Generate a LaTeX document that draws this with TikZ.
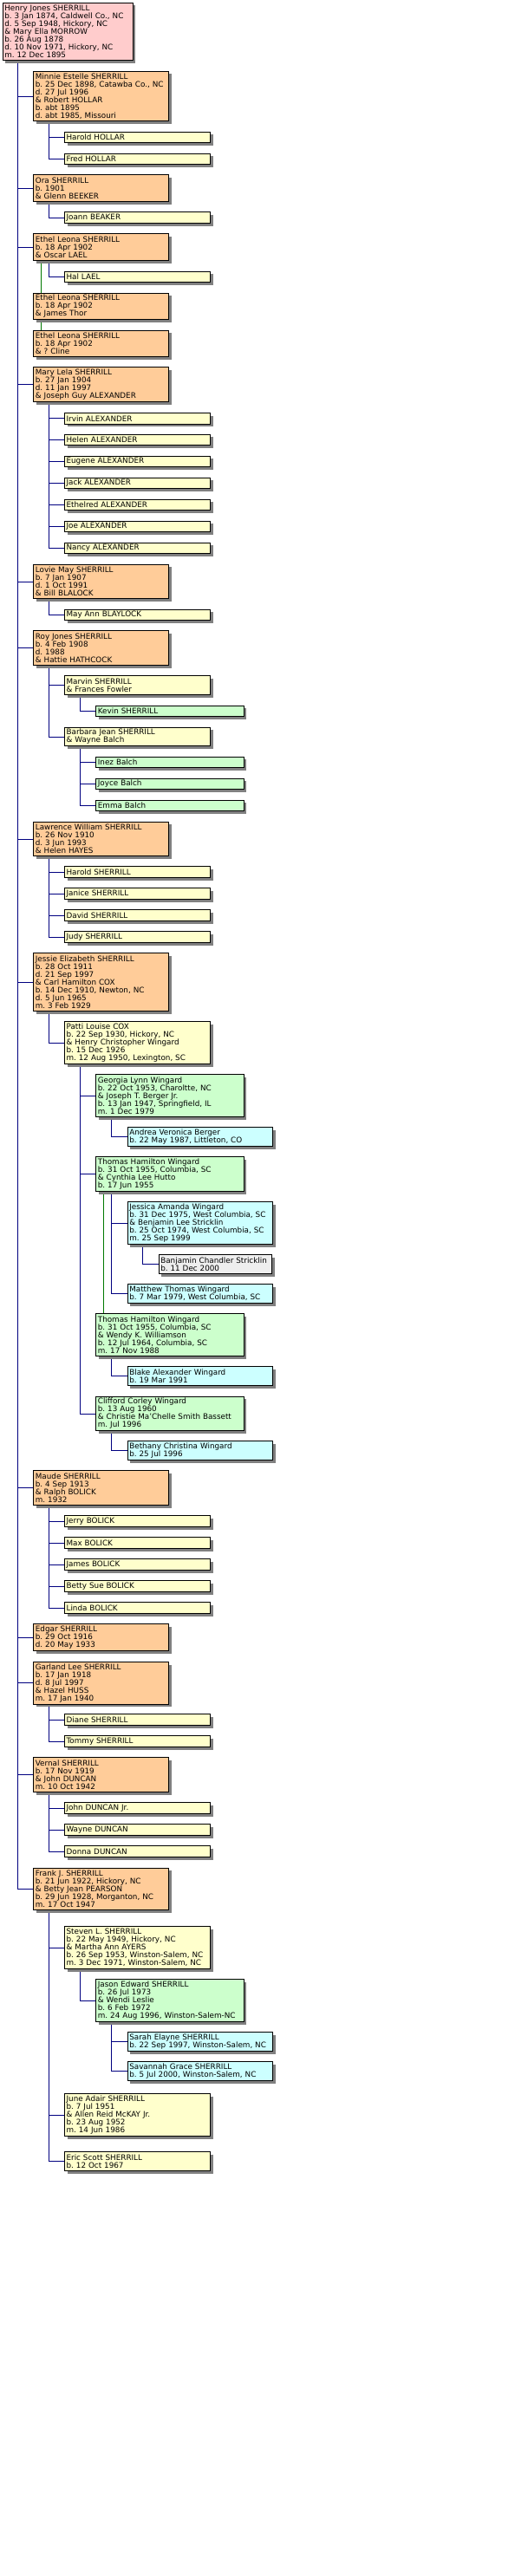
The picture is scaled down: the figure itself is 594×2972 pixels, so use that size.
\documentclass[tikz,border=0pt]{standalone}
\usepackage{fontspec}
\setmainfont{DejaVu Sans}
\usepackage{xcolor}
\usepackage{tikz}
\usetikzlibrary{shadows,backgrounds}
\definecolor{rootpink}{RGB}{255,204,204}
\definecolor{peach}{RGB}{255,204,153}
\definecolor{cream}{RGB}{255,255,204}
\definecolor{mint}{RGB}{204,255,204}
\definecolor{aqua}{RGB}{204,255,255}
\definecolor{pale}{RGB}{238,238,238}
\definecolor{navy}{RGB}{0,0,128}
\definecolor{leafgreen}{RGB}{0,120,0}
\definecolor{shade}{RGB}{128,128,128}
\frenchspacing

\begin{document}
\begin{tikzpicture}[
  x=1pt, y=-1pt,
  person/.style={draw=black, line width=0.8pt, anchor=north west,
    inner xsep=2.2pt, inner ysep=0pt, align=left,
    font=\fontsize{8.8}{9}\selectfont,
    general shadow={fill=shade, shadow xshift=3.3pt, shadow yshift=-3.3pt}},
  nl/.style={minimum height=9pt*#1+3.7pt},
  gen0/.style={person, fill=rootpink, text width=145.6pt},
  gen1/.style={person, fill=peach, text width=151.6pt},
  gen2/.style={person, fill=cream, text width=163.9pt},
  gen3/.style={person, fill=mint, text width=166pt},
  gen4/.style={person, fill=aqua, text width=163.2pt},
  gen5/.style={person, fill=pale, text width=126.2pt},
  tree/.style={draw=navy, line width=0.9pt},
  remarry/.style={draw=leafgreen, line width=0.9pt},
  ]
  \useasboundingbox (0,0) rectangle (594,2972);

  % Couple de depart
  \node[gen0, nl=7] (root) at (2.7,2.7) {Henry Jones SHERRILL\\ b. 3 Jan 1874, Caldwell Co., NC\\ d. 5 Sep 1948, Hickory, NC\\ \& Mary Ella MORROW\\ b. 26 Aug 1878\\ d. 10 Nov 1971, Hickory, NC\\ m. 12 Dec 1895};

  % Minnie
  \node[gen1, nl=6] (minnie) at (38.3,81.7) {Minnie Estelle SHERRILL\\ b. 25 Dec 1898, Catawba Co., NC\\ d. 27 Jul 1996\\ \& Robert HOLLAR\\ b. abt 1895\\ d. abt 1985, Missouri};
  \node[gen2, nl=1] (hollarH) at (74,151.7) {Harold HOLLAR};
  \node[gen2, nl=1] (hollarF) at (74,176.7) {Fred HOLLAR};

  % Ora
  \node[gen1, nl=3] (ora) at (38.3,201.3) {Ora SHERRILL\\ b. 1901\\ \& Glenn BEEKER};
  \node[gen2, nl=1] (joann) at (74,244.3) {Joann BEAKER};

  % Ethel (trois mariages)
  \node[gen1, nl=3] (ethelA) at (38.3,269.3) {Ethel Leona SHERRILL\\ b. 18 Apr 1902\\ \& Oscar LAEL};
  \node[gen2, nl=1] (hal) at (74,312.7) {Hal LAEL};
  \node[gen1, nl=3] (ethelB) at (38.3,337.7) {Ethel Leona SHERRILL\\ b. 18 Apr 1902\\ \& James Thor};
  \node[gen1, nl=3] (ethelC) at (38.3,380.7) {Ethel Leona SHERRILL\\ b. 18 Apr 1902\\ \& ? Cline};

  % Mary Lela
  \node[gen1, nl=4] (mary) at (38.3,423.3) {Mary Lela SHERRILL\\ b. 27 Jan 1904\\ d. 11 Jan 1997\\ \& Joseph Guy ALEXANDER};
  \node[gen2, nl=1] (irvin)    at (74,476)   {Irvin ALEXANDER};
  \node[gen2, nl=1] (helen)    at (74,500.7) {Helen ALEXANDER};
  \node[gen2, nl=1] (eugene)   at (74,525.7) {Eugene ALEXANDER};
  \node[gen2, nl=1] (jack)     at (74,550.7) {Jack ALEXANDER};
  \node[gen2, nl=1] (ethelred) at (74,575.7) {Ethelred ALEXANDER};
  \node[gen2, nl=1] (joe)      at (74,600.7) {Joe ALEXANDER};
  \node[gen2, nl=1] (nancy)    at (74,625.7) {Nancy ALEXANDER};

  % Lovie May
  \node[gen1, nl=4] (lovie) at (38.3,650.7) {Lovie May SHERRILL\\ b. 7 Jan 1907\\ d. 1 Oct 1991\\ \& Bill BLALOCK};
  \node[gen2, nl=1] (mayann) at (74,702.7) {May Ann BLAYLOCK};

  % Roy Jones
  \node[gen1, nl=4] (roy) at (38.3,727.3) {Roy Jones SHERRILL\\ b. 4 Feb 1908\\ d. 1988\\ \& Hattie HATHCOCK};
  \node[gen2, nl=2] (marvin) at (74,779.3) {Marvin SHERRILL\\ \& Frances Fowler};
  \node[gen3, nl=1] (kevin) at (110.3,813.7) {Kevin SHERRILL};
  \node[gen2, nl=2] (barbara) at (74,838.7) {Barbara Jean SHERRILL\\ \& Wayne Balch};
  \node[gen3, nl=1] (inez)  at (110.3,872.7) {Inez Balch};
  \node[gen3, nl=1] (joyce) at (110.3,897.7) {Joyce Balch};
  \node[gen3, nl=1] (emma)  at (110.3,922.7) {Emma Balch};

  % Lawrence William
  \node[gen1, nl=4] (lawrence) at (38.3,947.7) {Lawrence William SHERRILL\\ b. 26 Nov 1910\\ d. 3 Jun 1993\\ \& Helen HAYES};
  \node[gen2, nl=1] (haroldS) at (74,999.3)  {Harold SHERRILL};
  \node[gen2, nl=1] (janice)  at (74,1024.3) {Janice SHERRILL};
  \node[gen2, nl=1] (david)   at (74,1049.3) {David SHERRILL};
  \node[gen2, nl=1] (judy)    at (74,1074.3) {Judy SHERRILL};

  % Jessie Elizabeth
  \node[gen1, nl=7] (jessie) at (38.3,1099.3) {Jessie Elizabeth SHERRILL\\ b. 28 Oct 1911\\ d. 21 Sep 1997\\ \& Carl Hamilton COX\\ b. 14 Dec 1910, Newton, NC\\ d. 5 Jun 1965\\ m. 3 Feb 1929};
  \node[gen2, nl=5] (patti) at (74,1178.3) {Patti Louise COX\\ b. 22 Sep 1930, Hickory, NC\\ \& Henry Christopher Wingard\\ b. 15 Dec 1926\\ m. 12 Aug 1950, Lexington, SC};
  \node[gen3, nl=5] (georgia) at (110.3,1239.3) {Georgia Lynn Wingard\\ b. 22 Oct 1953, Charoltte, NC\\ \& Joseph T. Berger Jr.\\ b. 13 Jan 1947, Springfield, IL\\ m. 1 Dec 1979};
  \node[gen4, nl=2] (andrea) at (146.7,1300.3) {Andrea Veronica Berger\\ b. 22 May 1987, Littleton, CO};
  \node[gen3, nl=4] (thomasA) at (110.3,1334.3) {Thomas Hamilton Wingard\\ b. 31 Oct 1955, Columbia, SC\\ \& Cynthia Lee Hutto\\ b. 17 Jun 1955};
  \node[gen4, nl=5] (jessica) at (146.7,1386.3) {Jessica Amanda Wingard\\ b. 31 Dec 1975, West Columbia, SC\\ \& Benjamin Lee Stricklin\\ b. 25 Oct 1974, West Columbia, SC\\ m. 25 Sep 1999};
  \node[gen5, nl=2] (banjamin) at (182.7,1447.3) {Banjamin Chandler Stricklin\\ b. 11 Dec 2000};
  \node[gen4, nl=2] (matthew) at (146.7,1481.3) {Matthew Thomas Wingard\\ b. 7 Mar 1979, West Columbia, SC};
  \node[gen3, nl=5] (thomasB) at (110.3,1515.3) {Thomas Hamilton Wingard\\ b. 31 Oct 1955, Columbia, SC\\ \& Wendy K. Williamson\\ b. 12 Jul 1964, Columbia, SC\\ m. 17 Nov 1988};
  \node[gen4, nl=2] (blake) at (146.7,1576.3) {Blake Alexander Wingard\\ b. 19 Mar 1991};
  \node[gen3, nl=4] (clifford) at (110.3,1610.7) {Clifford Corley Wingard\\ b. 13 Aug 1960\\ \& Christie Ma'Chelle Smith Bassett\\ m. Jul 1996};
  \node[gen4, nl=2] (bethany) at (146.7,1662.3) {Bethany Christina Wingard\\ b. 25 Jul 1996};

  % Maude
  \node[gen1, nl=4] (maude) at (38.3,1696.3) {Maude SHERRILL\\ b. 4 Sep 1913\\ \& Ralph BOLICK\\ m. 1932};
  \node[gen2, nl=1] (jerry)    at (74,1748.3) {Jerry BOLICK};
  \node[gen2, nl=1] (max)      at (74,1773.3) {Max BOLICK};
  \node[gen2, nl=1] (james)    at (74,1798.3) {James BOLICK};
  \node[gen2, nl=1] (bettysue) at (74,1823.3) {Betty Sue BOLICK};
  \node[gen2, nl=1] (linda)    at (74,1848.3) {Linda BOLICK};

  % Edgar
  \node[gen1, nl=3] (edgar) at (38.3,1873.3) {Edgar SHERRILL\\ b. 29 Oct 1916\\ d. 20 May 1933};

  % Garland Lee
  \node[gen1, nl=5] (garland) at (38.3,1917) {Garland Lee SHERRILL\\ b. 17 Jan 1918\\ d. 8 Jul 1997\\ \& Hazel HUSS\\ m. 17 Jan 1940};
  \node[gen2, nl=1] (diane) at (74,1977.3) {Diane SHERRILL};
  \node[gen2, nl=1] (tommy) at (74,2002.3) {Tommy SHERRILL};

  % Vernal
  \node[gen1, nl=4] (vernal) at (38.3,2027.3) {Vernal SHERRILL\\ b. 17 Nov 1919\\ \& John DUNCAN\\ m. 10 Oct 1942};
  \node[gen2, nl=1] (johnjr) at (74,2079.3) {John DUNCAN Jr.};
  \node[gen2, nl=1] (wayne)  at (74,2104.3) {Wayne DUNCAN};
  \node[gen2, nl=1] (donna)  at (74,2129.3) {Donna DUNCAN};

  % Frank J.
  \node[gen1, nl=5] (frank) at (38.3,2154.7) {Frank J. SHERRILL\\ b. 21 Jun 1922, Hickory, NC\\ \& Betty Jean PEARSON\\ b. 29 Jun 1928, Morganton, NC\\ m. 17 Oct 1947};
  \node[gen2, nl=5] (steven) at (74,2222.3) {Steven L. SHERRILL\\ b. 22 May 1949, Hickory, NC\\ \& Martha Ann AYERS\\ b. 26 Sep 1953, Winston-Salem, NC\\ m. 3 Dec 1971, Winston-Salem, NC};
  \node[gen3, nl=5] (jason) at (110.3,2283.3) {Jason Edward SHERRILL\\ b. 26 Jul 1973\\ \& Wendi Leslie\\ b. 6 Feb 1972\\ m. 24 Aug 1996, Winston-Salem-NC};
  \node[gen4, nl=2] (sarah) at (146.7,2344.3) {Sarah Elayne SHERRILL\\ b. 22 Sep 1997, Winston-Salem, NC};
  \node[gen4, nl=2] (savannah) at (146.7,2378.3) {Savannah Grace SHERRILL\\ b. 5 Jul 2000, Winston-Salem, NC};
  \node[gen2, nl=5] (june) at (74,2415.3) {June Adair SHERRILL\\ b. 7 Jul 1951\\ \& Allen Reid McKAY Jr.\\ b. 23 Aug 1952\\ m. 14 Jun 1986};
  \node[gen2, nl=2] (eric) at (74,2482.3) {Eric Scott SHERRILL\\ b. 12 Oct 1967};

  \begin{scope}[on background layer]
    % Liens enfants de Henry
    \draw[tree] ([xshift=18pt]root.south west) |- (minnie.west);
    \draw[tree] ([xshift=18pt]root.south west) |- (ora.west);
    \draw[tree] ([xshift=18pt]root.south west) |- (ethelA.west);
    \draw[tree] ([xshift=18pt]root.south west) |- (mary.west);
    \draw[tree] ([xshift=18pt]root.south west) |- (lovie.west);
    \draw[tree] ([xshift=18pt]root.south west) |- (roy.west);
    \draw[tree] ([xshift=18pt]root.south west) |- (lawrence.west);
    \draw[tree] ([xshift=18pt]root.south west) |- (jessie.west);
    \draw[tree] ([xshift=18pt]root.south west) |- (maude.west);
    \draw[tree] ([xshift=18pt]root.south west) |- (edgar.west);
    \draw[tree] ([xshift=18pt]root.south west) |- (garland.west);
    \draw[tree] ([xshift=18pt]root.south west) |- (vernal.west);
    \draw[tree] ([xshift=18pt]root.south west) |- (frank.west);
    % Petits-enfants
    \draw[tree] ([xshift=18pt]minnie.south west) |- (hollarH.west);
    \draw[tree] ([xshift=18pt]minnie.south west) |- (hollarF.west);
    \draw[tree] ([xshift=18pt]ora.south west) |- (joann.west);
    \draw[tree] ([xshift=18pt]ethelA.south west) |- (hal.west);
    \draw[tree] ([xshift=18pt]mary.south west) |- (irvin.west);
    \draw[tree] ([xshift=18pt]mary.south west) |- (helen.west);
    \draw[tree] ([xshift=18pt]mary.south west) |- (eugene.west);
    \draw[tree] ([xshift=18pt]mary.south west) |- (jack.west);
    \draw[tree] ([xshift=18pt]mary.south west) |- (ethelred.west);
    \draw[tree] ([xshift=18pt]mary.south west) |- (joe.west);
    \draw[tree] ([xshift=18pt]mary.south west) |- (nancy.west);
    \draw[tree] ([xshift=18pt]lovie.south west) |- (mayann.west);
    \draw[tree] ([xshift=18pt]roy.south west) |- (marvin.west);
    \draw[tree] ([xshift=18pt]roy.south west) |- (barbara.west);
    \draw[tree] ([xshift=18pt]lawrence.south west) |- (haroldS.west);
    \draw[tree] ([xshift=18pt]lawrence.south west) |- (janice.west);
    \draw[tree] ([xshift=18pt]lawrence.south west) |- (david.west);
    \draw[tree] ([xshift=18pt]lawrence.south west) |- (judy.west);
    \draw[tree] ([xshift=18pt]jessie.south west) |- (patti.west);
    \draw[tree] ([xshift=18pt]maude.south west) |- (jerry.west);
    \draw[tree] ([xshift=18pt]maude.south west) |- (max.west);
    \draw[tree] ([xshift=18pt]maude.south west) |- (james.west);
    \draw[tree] ([xshift=18pt]maude.south west) |- (bettysue.west);
    \draw[tree] ([xshift=18pt]maude.south west) |- (linda.west);
    \draw[tree] ([xshift=18pt]garland.south west) |- (diane.west);
    \draw[tree] ([xshift=18pt]garland.south west) |- (tommy.west);
    \draw[tree] ([xshift=18pt]vernal.south west) |- (johnjr.west);
    \draw[tree] ([xshift=18pt]vernal.south west) |- (wayne.west);
    \draw[tree] ([xshift=18pt]vernal.south west) |- (donna.west);
    \draw[tree] ([xshift=18pt]frank.south west) |- (steven.west);
    \draw[tree] ([xshift=18pt]frank.south west) |- (june.west);
    \draw[tree] ([xshift=18pt]frank.south west) |- (eric.west);
    % Generations suivantes
    \draw[tree] ([xshift=18pt]marvin.south west) |- (kevin.west);
    \draw[tree] ([xshift=18pt]barbara.south west) |- (inez.west);
    \draw[tree] ([xshift=18pt]barbara.south west) |- (joyce.west);
    \draw[tree] ([xshift=18pt]barbara.south west) |- (emma.west);
    \draw[tree] ([xshift=18pt]patti.south west) |- (georgia.west);
    \draw[tree] ([xshift=18pt]patti.south west) |- (thomasA.west);
    \draw[tree] ([xshift=18pt]patti.south west) |- (clifford.west);
    \draw[tree] ([xshift=18pt]georgia.south west) |- (andrea.west);
    \draw[tree] ([xshift=18pt]thomasA.south west) |- (jessica.west);
    \draw[tree] ([xshift=18pt]thomasA.south west) |- (matthew.west);
    \draw[tree] ([xshift=18pt]jessica.south west) |- (banjamin.west);
    \draw[tree] ([xshift=18pt]thomasB.south west) |- (blake.west);
    \draw[tree] ([xshift=18pt]clifford.south west) |- (bethany.west);
    \draw[tree] ([xshift=18pt]steven.south west) |- (jason.west);
    \draw[tree] ([xshift=18pt]jason.south west) |- (sarah.west);
    \draw[tree] ([xshift=18pt]jason.south west) |- (savannah.west);
    % Remariages
    \draw[remarry] ([xshift=9pt]ethelA.south west) -- ([xshift=9pt]ethelC.north west);
    \draw[remarry] ([xshift=9pt]thomasA.south west) -- ([xshift=9pt]thomasB.north west);
  \end{scope}
\end{tikzpicture}
\end{document}
